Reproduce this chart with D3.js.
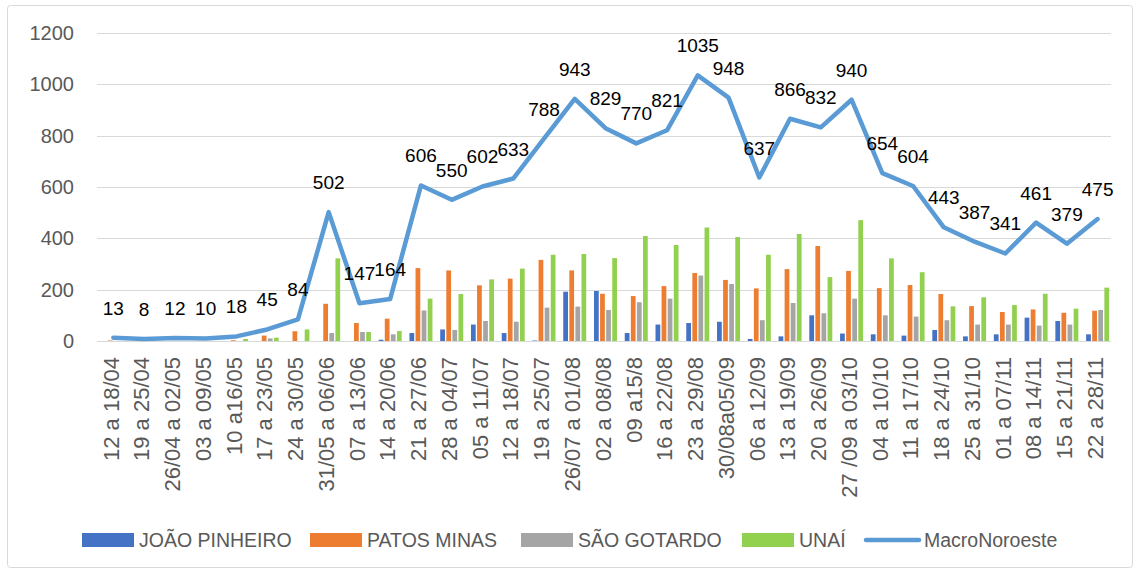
<!DOCTYPE html>
<html>
<head>
<meta charset="utf-8">
<script src="https://cdn.jsdelivr.net/npm/d3@7"></script>
<style>
  body { margin: 0; background: #fff; }
  svg { display: block; }
  text { font-family: "Liberation Sans", Arial, sans-serif; }
</style>
</head>
<body>
<div id="chart"></div>
<script>
var categories = ["12 a 18/04", "19 a 25/04", "26/04 a 02/05", "03 a 09/05", "10 a16/05", "17 a 23/05",
    "24 a 30/05", "31/05 a 06/06", "07 a 13/06", "14 a 20/06", "21 a 27/06", "28 a 04/07", "05 a 11/07",
    "12 a 18/07", "19 a 25/07", "26/07 a 01/08", "02 a 08/08", "09 a15/8", "16 a 22/08", "23 a 29/08",
    "30/08a05/09", "06 a 12/09", "13 a 19/09", "20 a 26/09", "27 /09 a 03/10", "04 a 10/10", "11 a 17/10",
    "18 a 24/10", "25 a 31/10", "01 a 07/11", "08 a 14/11", "15 a 21/11", "22 a 28/11"];

var joaoPinheiro = [0, 0, 0, 0, 0, 0, 0, 0, 0, 5, 31, 45, 64, 31, 2, 192, 195, 31, 64, 70, 75, 8, 18, 100, 29, 26, 21, 43, 18, 26, 91, 78, 26];
var patosMinas = [2, 0, 0, 0, 3, 21, 38, 145, 70, 87, 284, 275, 217, 243, 316, 275, 184, 175, 214, 265, 238, 205, 280, 370, 273, 206, 218, 183, 136, 113, 123, 110, 118];
var saoGotardo = [0, 0, 0, 0, 0, 10, 0, 31, 35, 26, 119, 43, 78, 75, 130, 134, 121, 151, 165, 255, 222, 81, 148, 108, 165, 100, 95, 81, 64, 64, 60, 64, 121];
var unai = [0, 0, 0, 0, 8, 13, 45, 322, 35, 39, 165, 183, 240, 282, 336, 339, 323, 409, 374, 442, 405, 336, 417, 249, 471, 322, 268, 135, 170, 140, 184, 126, 208];
var macroNoroeste = [13, 8, 12, 10, 18, 45, 84, 502, 147, 164, 606, 550, 602, 633, 788, 943, 829, 770, 821, 1035, 948, 637, 866, 832, 940, 654, 604, 443, 387, 341, 461, 379, 475];

var seriesNames = ["JOÃO PINHEIRO", "PATOS MINAS", "SÃO GOTARDO", "UNAÍ"];
var seriesValues = [joaoPinheiro, patosMinas, saoGotardo, unai];
var seriesColors = ["#4472C4", "#ED7D31", "#A5A5A5", "#92D050"];
var lineName = "MacroNoroeste";
var lineColor = "#5B9BD5";
var yTicks = [0, 200, 400, 600, 800, 1000, 1200];

var width = 1140, height = 573;

var svg = d3.select("#chart").append("svg")
    .attr("width", width)
    .attr("height", height);

// outer chart border
svg.append("rect")
    .attr("x", 7.5).attr("y", 5.5)
    .attr("width", 1125).attr("height", 562)
    .attr("rx", 3)
    .attr("fill", "#fff")
    .attr("stroke", "#d9d9d9");

var x = d3.scaleBand().domain(categories).range([98, 1113]);
var y = d3.scaleLinear().domain([0, 1200]).range([341, 33]);
var xSub = d3.scaleBand().domain(seriesNames).range([-11.5, 11.5]).paddingInner(0.22);

// gridlines
svg.append("g").selectAll("line")
    .data(yTicks)
    .enter().append("line")
    .attr("x1", 97).attr("x2", 1111)
    .attr("y1", function (d) { return Math.round(y(d)) + 0.5; })
    .attr("y2", function (d) { return Math.round(y(d)) + 0.5; })
    .attr("stroke", "#d9d9d9")
    .attr("stroke-width", 1.2);

// y axis labels
var yAxis = svg.append("g")
    .attr("transform", "translate(74,0)")
    .call(d3.axisLeft(y).tickValues(yTicks).tickFormat(d3.format("d")).tickSize(0).tickPadding(0));
yAxis.select(".domain").remove();
yAxis.selectAll("text")
    .attr("fill", "#595959")
    .style("font-size", "20px")
    .style("font-family", "Liberation Sans, Arial, sans-serif");

// x axis labels
var xAxis = svg.append("g")
    .attr("transform", "translate(0,341)")
    .call(d3.axisBottom(x).tickSize(0).tickPadding(0));
xAxis.select(".domain").remove();
xAxis.selectAll("text")
    .attr("fill", "#595959")
    .style("font-size", "22px")
    .style("font-family", "Liberation Sans, Arial, sans-serif")
    .attr("text-anchor", "end")
    .attr("dy", "0.33em")
    .attr("transform", "translate(-2,16) rotate(-90)")
    .attr("x", 0).attr("y", 0);

// bars
var groups = svg.append("g").selectAll("g")
    .data(categories)
    .enter().append("g")
    .attr("transform", function (d) { return "translate(" + (x(d) + x.bandwidth() / 2) + ",0)"; });

groups.selectAll("rect")
    .data(function (d, i) {
        return seriesNames.map(function (s, j) { return { key: s, value: seriesValues[j][i], color: seriesColors[j] }; });
    })
    .enter().append("rect")
    .attr("x", function (d) { return xSub(d.key); })
    .attr("width", xSub.bandwidth())
    .attr("y", function (d) { return y(d.value); })
    .attr("height", function (d) { return y(0) - y(d.value); })
    .attr("fill", function (d) { return d.color; });

// line
var line = d3.line()
    .x(function (d, i) { return x(categories[i]) + x.bandwidth() / 2; })
    .y(function (d) { return y(d); });

svg.append("path")
    .datum(macroNoroeste)
    .attr("d", line)
    .attr("fill", "none")
    .attr("stroke", lineColor)
    .attr("stroke-width", 4.5)
    .attr("stroke-linejoin", "round")
    .attr("stroke-linecap", "round");

// data labels
svg.append("g").selectAll("text")
    .data(macroNoroeste)
    .enter().append("text")
    .attr("x", function (d, i) { return x(categories[i]) + x.bandwidth() / 2; })
    .attr("y", function (d) { return y(d) - 23; })
    .attr("text-anchor", "middle")
    .attr("fill", "#000")
    .style("font-size", "19px")
    .text(function (d) { return d; });

// legend
var legendItems = seriesNames.map(function (s, j) { return { name: s, color: seriesColors[j], type: "bar" }; });
legendItems.push({ name: lineName, color: lineColor, type: "line" });
var legendX = [82, 310, 521, 742, 864];

var legend = svg.append("g").selectAll("g")
    .data(legendItems)
    .enter().append("g")
    .attr("transform", function (d, i) { return "translate(" + legendX[i] + ",540)"; });

legend.filter(function (d) { return d.type == "bar"; })
    .append("rect")
    .attr("x", 0).attr("y", -7)
    .attr("width", 52).attr("height", 14)
    .attr("fill", function (d) { return d.color; });

legend.filter(function (d) { return d.type == "line"; })
    .append("line")
    .attr("x1", 2).attr("x2", 55)
    .attr("y1", 0).attr("y2", 0)
    .attr("stroke", function (d) { return d.color; })
    .attr("stroke-width", 4.5)
    .attr("stroke-linecap", "round");

legend.append("text")
    .attr("x", function (d) { return d.type == "bar" ? 57 : 60; })
    .attr("y", 0)
    .attr("dy", "0.35em")
    .attr("fill", "#595959")
    .style("font-size", "19.5px")
    .text(function (d) { return d.name; });
</script>
</body>
</html>
